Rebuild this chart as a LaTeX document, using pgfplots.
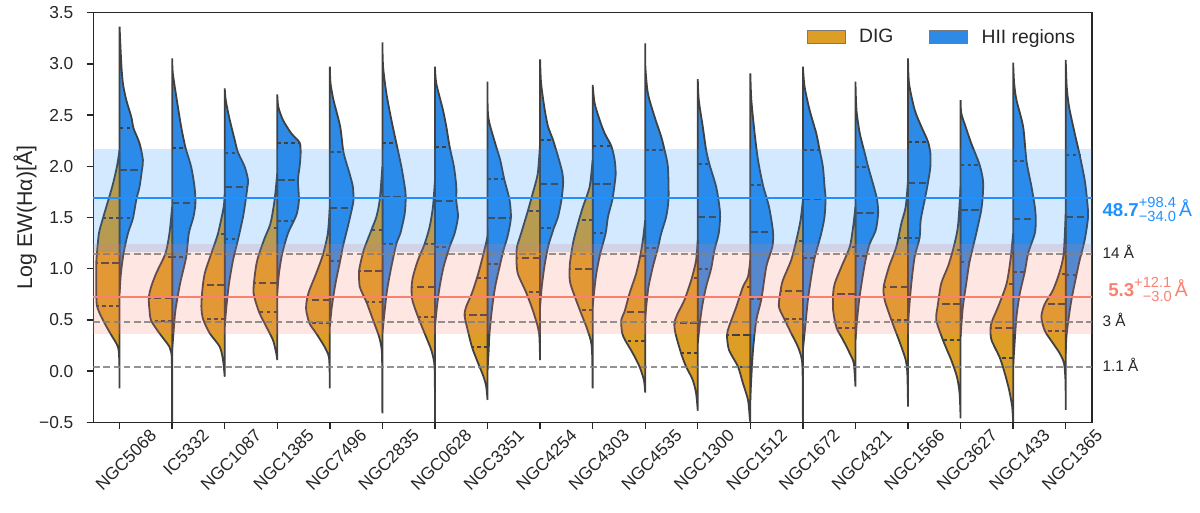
\documentclass[border=0pt]{standalone}
\usepackage{pgfplots}
\pgfplotsset{compat=1.18}
\usepackage{fontspec}
\setmainfont{Liberation Sans}
\definecolor{digcol}{RGB}{221,158,38}
\definecolor{hiicol}{RGB}{47,138,229}
\definecolor{edgecol}{RGB}{64,64,64}
\definecolor{dodger}{RGB}{30,144,255}
\definecolor{salmon}{RGB}{250,128,114}
\definecolor{axcol}{RGB}{38,38,38}
% half violin: #1 centre, #2 side (+ or -), #3 colour, #4 rows "v w\\"
\newcommand{\vshape}[4]{\addplot[forget plot, draw=edgecol, line width=1.35pt, fill=#3, smooth, tension=0.45] table[row sep=\\, x expr={#1#2\thisrow{w}}, y=v] {v w\\ #4} -- cycle;}
\newcommand{\vq}[4]{\addplot[forget plot, draw=edgecol, line width=1.35pt, dash pattern=on 2.8pt off 2.4pt] table[row sep=\\, x expr={#1#2\thisrow{w}}, y=v] {v w\\ #3 0\\ #3 #4\\};}
\newcommand{\vm}[4]{\addplot[forget plot, draw=edgecol, line width=1.35pt, dash pattern=on 5.5pt off 2.6pt] table[row sep=\\, x expr={#1#2\thisrow{w}}, y=v] {v w\\ #3 0\\ #3 #4\\};}
\begin{document}
\begin{tikzpicture}
\path[use as bounding box] (-69.98pt,-67.3pt) rectangle (830pt,316.7pt);
\begin{axis}[
  scale only axis, width=749pt, height=307.2pt, at={(0,0)}, anchor=south west,
  xmin=-0.5, xmax=18.5, ymin=-0.5, ymax=3.5, clip=false,
  xtick={0,...,18},
  xticklabels={NGC5068,IC5332,NGC1087,NGC1385,NGC7496,NGC2835,NGC0628,NGC3351,NGC4254,NGC4303,NGC4535,NGC1300,NGC1512,NGC1672,NGC4321,NGC1566,NGC3627,NGC1433,NGC1365},
  ytick={-0.5,0,0.5,1,1.5,2,2.5,3,3.5},
  yticklabels={−0.5,0.0,0.5,1.0,1.5,2.0,2.5,3.0,3.5},
  tick align=outside, tick pos=left, major tick length=5pt,
  axis line style={line width=1pt, draw=axcol},
  every tick/.style={line width=1pt, draw=axcol},
  tick label style={font=\fontsize{13}{15}\selectfont, text=axcol},
  xticklabel style={rotate=45, anchor=north east, inner sep=0pt, xshift=16pt, yshift=-15pt},
  yticklabel style={inner sep=0pt, xshift=-9.75pt},
  ylabel={Log EW(Hα)[Å]},
  ylabel style={at={(rel axis cs:-0.0684,0.5)}, anchor=center, font=\fontsize{16}{18}\selectfont, text=axcol},
  legend style={draw=none, fill=none, at={(rel axis cs:0.99,0.94)}, anchor=east, legend columns=2, font=\fontsize{14.5}{17}\selectfont, text=axcol, /tikz/every even column/.append style={column sep=25pt}, /tikz/every odd column/.append style={column sep=8pt}},
  legend image code/.code={\draw[#1] (0pt,-4.9pt) rectangle (28.5pt,4.9pt);},
]
% ---------------- violins ----------------
% 0 NGC5068
\vshape{0}{+}{hiicol}{3.363 0\\ 3.005 .032\\ 2.810 .063\\ 2.647 .127\\ 2.484 .222\\ 2.370 .266\\ 2.224 .380\\ 2.061 .444\\ 1.964 .425\\ 1.801 .380\\ 1.671 .317\\ 1.492 .254\\ 1.345 .159\\ 1.150 .076\\ 0.954 .025\\ 0.759 0\\}
\vq{0}{+}{2.370}{.266}\vm{0}{+}{1.964}{.425}\vq{0}{+}{1.492}{.254}
\vshape{0}{-}{digcol}{2.159 0\\ 1.996 .051\\ 1.801 .140\\ 1.492 .317\\ 1.345 .393\\ 1.150 .431\\ 1.052 .444\\ 0.857 .444\\ 0.639 .431\\ 0.499 .317\\ 0.369 .178\\ 0.238 .032\\ 0.10 .006\\ -0.169 0\\}
\vq{0}{-}{1.492}{.317}\vm{0}{-}{1.052}{.444}\vq{0}{-}{0.639}{.431}
% 1 IC5332
\vshape{1}{+}{hiicol}{3.054 0\\ 2.908 .013\\ 2.647 .089\\ 2.387 .171\\ 2.182 .254\\ 1.996 .361\\ 1.801 .425\\ 1.645 .444\\ 1.508 .406\\ 1.345 .317\\ 1.111 .266\\ 0.857 .152\\ 0.596 .063\\ 0.369 .025\\ 0.206 0\\}
\vq{1}{+}{2.182}{.254}\vm{1}{+}{1.645}{.444}\vq{1}{+}{1.111}{.266}
\vshape{1}{-}{digcol}{1.605 0\\ 1.345 .051\\ 1.150 .127\\ 0.954 .304\\ 0.824 .399\\ 0.717 .444\\ 0.596 .431\\ 0.492 .399\\ 0.369 .241\\ 0.238 .051\\ 0.173 .013\\ 0.0 .003\\ -0.5 0\\}
\vq{1}{-}{1.111}{.16}\vm{1}{-}{0.717}{.444}\vq{1}{-}{0.492}{.399}
% 2 NGC1087
\vshape{2}{+}{hiicol}{2.761 0\\ 2.647 .019\\ 2.484 .082\\ 2.257 .190\\ 2.133 .254\\ 1.996 .380\\ 1.866 .444\\ 1.794 .431\\ 1.671 .399\\ 1.508 .349\\ 1.286 .254\\ 1.085 .159\\ 0.857 .082\\ 0.629 .032\\ 0.434 0\\}
\vq{2}{+}{2.133}{.254}\vm{2}{+}{1.794}{.431}\vq{2}{+}{1.286}{.254}
\vshape{2}{-}{digcol}{1.736 0\\ 1.605 .019\\ 1.345 .127\\ 1.150 .254\\ 0.954 .380\\ 0.792 .425\\ 0.629 .444\\ 0.508 .412\\ 0.369 .285\\ 0.238 .095\\ 0.108 .032\\ -0.055 0\\}
\vq{2}{-}{1.335}{.133}\vm{2}{-}{0.837}{.41}\vq{2}{-}{0.508}{.412}
% 3 NGC1385
\vshape{3}{+}{hiicol}{2.702 0\\ 2.582 .019\\ 2.452 .108\\ 2.322 .266\\ 2.231 .425\\ 2.126 .444\\ 1.996 .425\\ 1.866 .393\\ 1.671 .412\\ 1.540 .374\\ 1.462 .311\\ 1.345 .203\\ 1.150 .095\\ 0.954 .032\\ 0.759 0\\}
\vq{3}{+}{2.231}{.425}\vm{3}{+}{1.866}{.393}\vq{3}{+}{1.462}{.311}
\vshape{3}{-}{digcol}{1.931 0\\ 1.671 .051\\ 1.475 .114\\ 1.397 .159\\ 1.280 .254\\ 1.085 .380\\ 0.922 .431\\ 0.759 .450\\ 0.580 .349\\ 0.434 .209\\ 0.303 .082\\ 0.173 .019\\ 0.108 0\\}
\vq{3}{-}{1.397}{.159}\vm{3}{-}{0.863}{.444}\vq{3}{-}{0.580}{.349}
% 4 NGC7496
\vshape{4}{+}{hiicol}{2.973 0\\ 2.810 .013\\ 2.647 .070\\ 2.387 .197\\ 2.136 .260\\ 1.931 .374\\ 1.801 .438\\ 1.671 .450\\ 1.596 .425\\ 1.410 .342\\ 1.215 .247\\ 1.078 .197\\ 0.857 .108\\ 0.629 .038\\ 0.434 0\\}
\vq{4}{+}{2.136}{.260}\vm{4}{+}{1.596}{.425}\vq{4}{+}{1.078}{.197}
\vshape{4}{-}{digcol}{1.605 0\\ 1.345 .038\\ 1.134 .133\\ 0.954 .260\\ 0.792 .387\\ 0.694 .438\\ 0.596 .450\\ 0.466 .387\\ 0.369 .260\\ 0.238 .101\\ 0.141 .019\\ 0.0 .004\\ -0.169 0\\}
\vq{4}{-}{1.134}{.133}\vm{4}{-}{0.694}{.438}\vq{4}{-}{0.466}{.387}
% 5 NGC2835
\vshape{5}{+}{hiicol}{3.210 0\\ 2.973 .013\\ 2.712 .076\\ 2.452 .171\\ 2.224 .266\\ 1.996 .361\\ 1.801 .425\\ 1.703 .444\\ 1.540 .425\\ 1.345 .342\\ 1.244 .266\\ 1.020 .171\\ 0.792 .089\\ 0.564 .038\\ 0.369 0\\}
\vq{5}{+}{2.224}{.266}\vm{5}{+}{1.703}{.444}\vq{5}{+}{1.244}{.266}
\vshape{5}{-}{digcol}{1.996 0\\ 1.671 .051\\ 1.508 .114\\ 1.378 .209\\ 1.182 .355\\ 1.020 .431\\ 0.981 .444\\ 0.824 .431\\ 0.675 .304\\ 0.499 .178\\ 0.336 .063\\ 0.206 .013\\ 0.0 .003\\ -0.413 0\\}
\vq{5}{-}{1.378}{.209}\vm{5}{-}{0.981}{.444}\vq{5}{-}{0.675}{.304}
% 6 NGC0628
\vshape{6}{+}{hiicol}{2.973 0\\ 2.810 .025\\ 2.550 .152\\ 2.387 .216\\ 2.191 .279\\ 1.996 .361\\ 1.801 .406\\ 1.661 .406\\ 1.508 .438\\ 1.345 .374\\ 1.215 .279\\ 1.020 .165\\ 0.824 .089\\ 0.629 .038\\ 0.434 0\\}
\vq{6}{+}{2.191}{.279}\vm{6}{+}{1.661}{.406}\vq{6}{+}{1.215}{.279}
\vshape{6}{-}{digcol}{1.866 0\\ 1.605 .038\\ 1.410 .101\\ 1.241 .197\\ 1.085 .323\\ 0.922 .419\\ 0.824 .444\\ 0.694 .431\\ 0.531 .323\\ 0.369 .197\\ 0.206 .070\\ 0.076 .013\\ -0.1 .002\\ -0.5 0\\}
\vq{6}{-}{1.241}{.197}\vm{6}{-}{0.824}{.444}\vq{6}{-}{0.531}{.323}
% 7 NGC3351
\vshape{7}{+}{hiicol}{2.826 0\\ 2.485 .013\\ 2.224 .146\\ 2.062 .241\\ 1.876 .317\\ 1.671 .419\\ 1.492 .444\\ 1.313 .380\\ 1.183 .304\\ 1.046 .241\\ 0.825 .146\\ 0.597 .082\\ 0.369 .038\\ 0.173 .019\\ 0.011 0\\}
\vq{7}{+}{1.876}{.317}\vm{7}{+}{1.492}{.444}\vq{7}{+}{1.046}{.241}
\vshape{7}{-}{digcol}{1.313 0\\ 1.215 .044\\ 1.020 .140\\ 0.906 .203\\ 0.759 .298\\ 0.629 .406\\ 0.548 .438\\ 0.434 .393\\ 0.239 .298\\ 0.108 .203\\ -0.054 .076\\ -0.152 .025\\ -0.282 0\\}
\vq{7}{-}{0.906}{.203}\vm{7}{-}{0.548}{.438}\vq{7}{-}{0.239}{.298}
% 8 NGC4254
\vshape{8}{+}{hiicol}{3.044 0\\ 2.810 .019\\ 2.550 .089\\ 2.387 .152\\ 2.256 .247\\ 2.061 .361\\ 1.931 .425\\ 1.827 .438\\ 1.671 .406\\ 1.508 .342\\ 1.394 .260\\ 1.215 .152\\ 1.020 .082\\ 0.824 .032\\ 0.629 0\\}
\vq{8}{+}{2.256}{.247}\vm{8}{+}{1.827}{.438}\vq{8}{+}{1.394}{.260}
\vshape{8}{-}{digcol}{2.224 0\\ 1.931 .044\\ 1.736 .140\\ 1.560 .235\\ 1.345 .361\\ 1.215 .438\\ 1.107 .450\\ 0.954 .425\\ 0.769 .266\\ 0.596 .140\\ 0.434 .044\\ 0.336 .013\\ 0.108 0\\}
\vq{8}{-}{1.560}{.235}\vm{8}{-}{1.107}{.450}\vq{8}{-}{0.769}{.266}
% 9 NGC4303
\vshape{9}{+}{hiicol}{2.794 0\\ 2.615 .038\\ 2.452 .133\\ 2.322 .228\\ 2.198 .355\\ 2.061 .419\\ 1.931 .438\\ 1.830 .419\\ 1.671 .374\\ 1.508 .292\\ 1.345 .247\\ 1.150 .146\\ 0.954 .070\\ 0.759 .025\\ 0.629 0\\}
\vq{9}{+}{2.198}{.355}\vm{9}{+}{1.830}{.419}\vq{9}{+}{1.345}{.247}
\vshape{9}{-}{digcol}{2.061 0\\ 1.801 .057\\ 1.605 .184\\ 1.475 .260\\ 1.280 .361\\ 1.085 .425\\ 1.000 .438\\ 0.857 .425\\ 0.600 .247\\ 0.434 .120\\ 0.303 .038\\ 0.206 .013\\ 0.0 .003\\ -0.169 0\\}
\vq{9}{-}{1.475}{.260}\vm{9}{-}{1.000}{.438}\vq{9}{-}{0.600}{.247}
% 10 NGC4535
\vshape{10}{+}{hiicol}{3.200 0\\ 2.973 .003\\ 2.712 .051\\ 2.484 .178\\ 2.289 .304\\ 2.159 .368\\ 1.996 .431\\ 1.687 .444\\ 1.508 .399\\ 1.345 .304\\ 1.202 .241\\ 1.020 .146\\ 0.824 .063\\ 0.629 .019\\ 0.499 0\\}
\vq{10}{+}{2.159}{.368}\vm{10}{+}{1.687}{.444}\vq{10}{+}{1.202}{.241}
\vshape{10}{-}{digcol}{1.475 0\\ 1.280 .044\\ 1.124 .095\\ 0.954 .171\\ 0.759 .298\\ 0.580 .393\\ 0.499 .457\\ 0.369 .438\\ 0.294 .374\\ 0.173 .235\\ 0.043 .108\\ -0.087 .025\\ -0.211 0\\}
\vq{10}{-}{1.124}{.095}\vm{10}{-}{0.580}{.393}\vq{10}{-}{0.294}{.374}
% 11 NGC1300
\vshape{11}{+}{hiicol}{2.852 0\\ 2.647 .019\\ 2.387 .095\\ 2.159 .159\\ 2.019 .222\\ 1.801 .349\\ 1.605 .412\\ 1.505 .425\\ 1.345 .399\\ 1.182 .317\\ 1.000 .254\\ 0.824 .159\\ 0.629 .082\\ 0.434 .032\\ 0.271 0\\}
\vq{11}{+}{2.019}{.222}\vm{11}{+}{1.505}{.425}\vq{11}{+}{1.000}{.254}
\vshape{11}{-}{digcol}{1.280 0\\ 1.085 .032\\ 0.906 .114\\ 0.694 .254\\ 0.564 .380\\ 0.473 .444\\ 0.369 .425\\ 0.173 .317\\ 0.043 .222\\ -0.087 .095\\ -0.217 .032\\ -0.387 0\\}
\vq{11}{-}{0.906}{.114}\vm{11}{-}{0.473}{.444}\vq{11}{-}{0.173}{.317}
% 12 NGC1512
\vshape{12}{+}{hiicol}{2.908 0\\ 2.647 .019\\ 2.322 .082\\ 2.061 .146\\ 1.814 .241\\ 1.605 .355\\ 1.361 .431\\ 1.215 .419\\ 1.020 .304\\ 0.701 .209\\ 0.499 .114\\ 0.206 .051\\ -0.120 .013\\ -0.282 0\\}
\vq{12}{+}{1.814}{.241}\vm{12}{+}{1.361}{.431}\vq{12}{+}{0.701}{.209}
\vshape{12}{-}{digcol}{1.085 0\\ 0.922 .044\\ 0.824 .140\\ 0.629 .266\\ 0.434 .406\\ 0.349 .444\\ 0.206 .406\\ 0.043 .235\\ -0.120 .140\\ -0.282 .044\\ -0.445 .013\\ -0.5 0\\}
\vq{12}{-}{0.824}{.140}\vm{12}{-}{0.349}{.444}\vq{12}{-}{0.043}{.235}
% 13 NGC1672
\vshape{13}{+}{hiicol}{2.973 0\\ 2.777 .032\\ 2.550 .127\\ 2.322 .254\\ 2.162 .317\\ 1.996 .380\\ 1.801 .412\\ 1.684 .431\\ 1.508 .412\\ 1.345 .349\\ 1.104 .222\\ 0.922 .159\\ 0.694 .095\\ 0.434 .044\\ 0.206 0\\}
\vq{13}{+}{2.162}{.317}\vm{13}{+}{1.684}{.431}\vq{13}{+}{1.104}{.222}
\vshape{13}{-}{digcol}{1.671 0\\ 1.475 .044\\ 1.273 .127\\ 1.085 .222\\ 0.889 .380\\ 0.785 .425\\ 0.629 .457\\ 0.505 .349\\ 0.369 .222\\ 0.238 .095\\ 0.108 .019\\ -0.1 .003\\ -0.5 0\\}
\vq{13}{-}{1.273}{.127}\vm{13}{-}{0.785}{.425}\vq{13}{-}{0.505}{.349}
% 14 NGC4321
\vshape{14}{+}{hiicol}{2.826 0\\ 2.550 .019\\ 2.322 .082\\ 2.126 .178\\ 1.996 .241\\ 1.801 .349\\ 1.671 .412\\ 1.540 .431\\ 1.378 .387\\ 1.247 .273\\ 1.127 .209\\ 0.954 .146\\ 0.694 .070\\ 0.434 .019\\ 0.303 0\\}
\vq{14}{+}{1.996}{.241}\vm{14}{+}{1.540}{.431}\vq{14}{+}{1.127}{.209}
\vshape{14}{-}{digcol}{1.605 0\\ 1.410 .044\\ 1.215 .108\\ 1.020 .266\\ 0.857 .393\\ 0.753 .425\\ 0.596 .425\\ 0.424 .361\\ 0.303 .235\\ 0.173 .108\\ 0.076 .032\\ -0.152 0\\}
\vq{14}{-}{1.215}{.108}\vm{14}{-}{0.753}{.425}\vq{14}{-}{0.424}{.361}
% 15 NGC1566
\vshape{15}{+}{hiicol}{3.054 0\\ 2.810 .019\\ 2.550 .127\\ 2.387 .254\\ 2.240 .380\\ 2.126 .425\\ 1.996 .425\\ 1.840 .380\\ 1.671 .317\\ 1.475 .241\\ 1.300 .22\\ 1.117 .127\\ 0.857 .063\\ 0.596 .019\\ 0.434 0\\}
\vq{15}{+}{2.240}{.380}\vm{15}{+}{1.840}{.380}\vq{15}{+}{1.300}{.22}
\vshape{15}{-}{digcol}{1.866 0\\ 1.605 .044\\ 1.443 .127\\ 1.215 .222\\ 1.020 .361\\ 0.824 .463\\ 0.694 .444\\ 0.499 .317\\ 0.369 .222\\ 0.238 .127\\ 0.108 .044\\ -0.022 .013\\ -0.348 0\\}
\vq{15}{-}{1.300}{.18}\vm{15}{-}{0.824}{.463}\vq{15}{-}{0.499}{.317}
% 16 NGC3627
\vshape{16}{+}{hiicol}{2.647 0\\ 2.517 .013\\ 2.387 .095\\ 2.224 .203\\ 2.016 .361\\ 1.866 .425\\ 1.736 .425\\ 1.573 .393\\ 1.345 .298\\ 1.068 .171\\ 0.857 .108\\ 0.629 .044\\ 0.434 .013\\ 0.336 0\\}
\vq{16}{+}{2.016}{.361}\vm{16}{+}{1.573}{.393}\vq{16}{+}{1.068}{.171}
\vshape{16}{-}{digcol}{1.801 0\\ 1.410 .051\\ 1.182 .146\\ 1.020 .241\\ 0.857 .368\\ 0.652 .431\\ 0.499 .463\\ 0.303 .336\\ 0.108 .178\\ -0.055 .070\\ -0.217 .019\\ -0.462 0\\}
\vq{16}{-}{1.182}{.146}\vm{16}{-}{0.652}{.431}\vq{16}{-}{0.303}{.336}
% 17 NGC1433
\vshape{17}{+}{hiicol}{3.012 0\\ 2.810 .019\\ 2.647 .063\\ 2.387 .190\\ 2.051 .254\\ 1.801 .349\\ 1.605 .412\\ 1.482 .431\\ 1.345 .412\\ 1.150 .285\\ 0.971 .222\\ 0.759 .127\\ 0.531 .063\\ 0.206 .019\\ 0.043 0\\}
\vq{17}{+}{2.051}{.254}\vm{17}{+}{1.482}{.431}\vq{17}{+}{0.971}{.222}
\vshape{17}{-}{digcol}{1.345 0\\ 1.085 .051\\ 0.850 .127\\ 0.629 .285\\ 0.499 .393\\ 0.421 .431\\ 0.303 .412\\ 0.131 .254\\ -0.022 .159\\ -0.185 .076\\ -0.348 .019\\ -0.5 0\\}
\vq{17}{-}{0.850}{.127}\vm{17}{-}{0.421}{.431}\vq{17}{-}{0.131}{.254}
% 18 NGC1365
\vshape{18}{+}{hiicol}{3.038 0\\ 2.777 .019\\ 2.582 .063\\ 2.322 .171\\ 2.110 .266\\ 1.866 .361\\ 1.671 .406\\ 1.505 .425\\ 1.280 .361\\ 1.085 .266\\ 0.935 .203\\ 0.694 .108\\ 0.499 .051\\ 0.336 .013\\ 0.173 0\\}
\vq{18}{+}{2.110}{.266}\vm{18}{+}{1.505}{.425}\vq{18}{+}{0.935}{.203}
\vshape{18}{-}{digcol}{1.540 0\\ 1.150 .038\\ 0.971 .114\\ 0.792 .241\\ 0.655 .399\\ 0.531 .463\\ 0.395 .399\\ 0.271 .241\\ 0.173 .114\\ 0.076 .032\\ -0.1 .004\\ -0.380 0\\}
\vq{18}{-}{0.95}{.11}\vm{18}{-}{0.655}{.399}\vq{18}{-}{0.395}{.399}
% ---------------- bands and reference lines ----------------
\addplot[forget plot, draw=none, fill=salmon, fill opacity=0.2] coordinates {(-0.5,0.362) (18.5,0.362) (18.5,1.2405) (-0.5,1.2405)} -- cycle;
\addplot[forget plot, draw=none, fill=dodger, fill opacity=0.2] coordinates {(-0.5,1.167) (18.5,1.167) (18.5,2.168) (-0.5,2.168)} -- cycle;
\addplot[forget plot, dodger, line width=1.5pt] coordinates {(-0.5,1.6875) (18.5,1.6875)};
\addplot[forget plot, salmon, line width=1.5pt] coordinates {(-0.5,0.7243) (18.5,0.7243)};
\addplot[forget plot, gray, opacity=0.85, line width=1.4pt, dash pattern=on 5pt off 2.6pt] coordinates {(-0.5,1.146) (18.5,1.146)};
\addplot[forget plot, gray, opacity=0.85, line width=1.4pt, dash pattern=on 5pt off 2.6pt] coordinates {(-0.5,0.477) (18.5,0.477)};
\addplot[forget plot, gray, opacity=0.85, line width=1.4pt, dash pattern=on 5pt off 2.6pt] coordinates {(-0.5,0.041) (18.5,0.041)};
% ---------------- legend ----------------
\addlegendimage{fill=digcol, draw=edgecol!70, line width=0.6pt}
\addlegendentry{DIG}
\addlegendimage{fill=hiicol, draw=edgecol!70, line width=0.6pt}
\addlegendentry{HII regions}
% ---------------- annotations ----------------
\node[anchor=base west, text=dodger, inner sep=0pt, xshift=7.7pt] at (axis cs:18.5,1.508) {{\fontsize{14}{16}\selectfont\bfseries 48.7}\raisebox{6.6pt}{\makebox[0pt][l]{\fontsize{11}{13}\selectfont +98.4}}\raisebox{-3.4pt}{\fontsize{11}{13}\selectfont −34.0}{\fontsize{14.5}{16}\selectfont\,Å}};
\node[anchor=base west, text=salmon, inner sep=0pt, xshift=12pt] at (axis cs:18.5,0.727) {{\fontsize{14}{16}\selectfont\bfseries 5.3}\raisebox{6.6pt}{\makebox[0pt][l]{\fontsize{11}{13}\selectfont +12.1}}\raisebox{-3.4pt}{\fontsize{11}{13}\selectfont\hphantom{+}−3.0}{\fontsize{14.5}{16}\selectfont\,Å}};
\node[anchor=base west, text=axcol, inner sep=0pt, xshift=7.7pt, font=\fontsize{11.5}{13}\selectfont] at (axis cs:18.5,1.102) {14 Å};
\node[anchor=base west, text=axcol, inner sep=0pt, xshift=7.7pt, font=\fontsize{11.5}{13}\selectfont] at (axis cs:18.5,0.434) {3 Å};
\node[anchor=base west, text=axcol, inner sep=0pt, xshift=7.7pt, font=\fontsize{11.5}{13}\selectfont] at (axis cs:18.5,-0.006) {1.1 Å};
\end{axis}
\end{tikzpicture}
\end{document}
